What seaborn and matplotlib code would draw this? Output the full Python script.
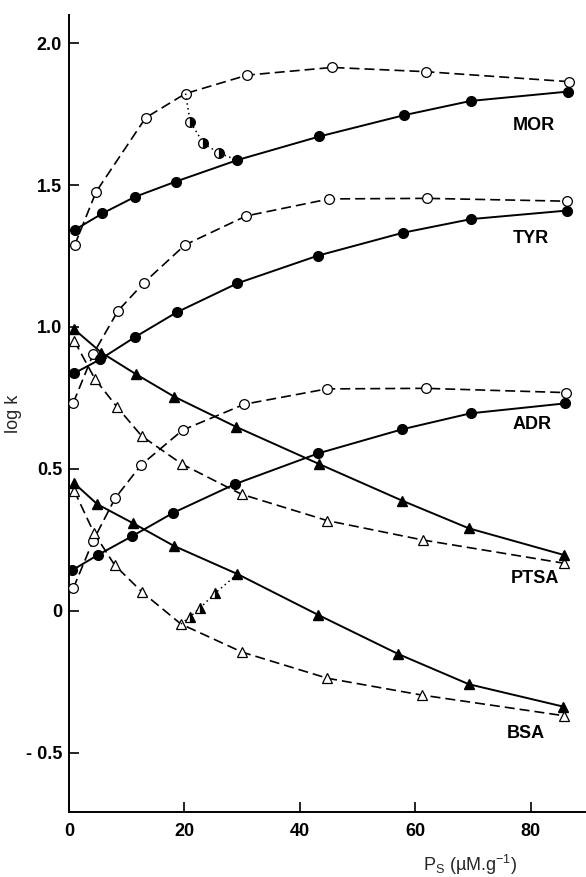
import matplotlib
matplotlib.use("Agg")
import matplotlib.pyplot as plt
import seaborn as sns
import pandas as pd

# ---------------- data ----------------
mor_filled_x = [1.0, 5.8, 11.4, 18.5, 29.2, 43.4, 58.1, 69.6, 86.5]
mor_filled_y = [1.342, 1.400, 1.458, 1.512, 1.588, 1.671, 1.746, 1.796, 1.829]
mor_open_x = [1.0, 4.7, 13.3, 20.2, 30.9, 45.6, 61.9, 86.6]
mor_open_y = [1.289, 1.476, 1.737, 1.822, 1.887, 1.914, 1.899, 1.864]
mor_half_x = [20.2, 21.0, 23.3, 26.0, 29.2]
mor_half_y = [1.822, 1.723, 1.647, 1.612, 1.588]

tyr_filled_x = [0.9, 5.4, 11.4, 18.7, 29.2, 43.1, 57.9, 69.7, 86.3]
tyr_filled_y = [0.837, 0.886, 0.964, 1.052, 1.154, 1.251, 1.332, 1.380, 1.410]
tyr_open_x = [0.75, 4.2, 8.5, 13.0, 20.1, 30.7, 45.1, 62.0, 86.3]
tyr_open_y = [0.733, 0.905, 1.057, 1.156, 1.289, 1.391, 1.451, 1.453, 1.443]

adr_filled_x = [0.6, 5.0, 11.0, 18.1, 28.8, 43.2, 57.8, 69.6, 86.0]
adr_filled_y = [0.144, 0.197, 0.264, 0.346, 0.447, 0.555, 0.640, 0.696, 0.731]
adr_open_x = [0.75, 4.2, 8.0, 12.5, 19.7, 30.4, 44.7, 61.8, 86.1]
adr_open_y = [0.080, 0.248, 0.397, 0.514, 0.637, 0.728, 0.782, 0.784, 0.769]

ptsa_filled_x = [0.9, 5.6, 11.6, 18.2, 28.9, 43.4, 57.8, 69.3, 85.8]
ptsa_filled_y = [0.992, 0.910, 0.834, 0.755, 0.649, 0.517, 0.388, 0.291, 0.197]
ptsa_open_x = [0.9, 4.5, 8.3, 12.6, 19.6, 29.9, 44.8, 61.3, 85.8]
ptsa_open_y = [0.952, 0.817, 0.719, 0.616, 0.517, 0.411, 0.318, 0.250, 0.168]

bsa_filled_x = [0.9, 4.9, 11.1, 18.2, 29.2, 43.2, 57.1, 69.3, 85.7]
bsa_filled_y = [0.450, 0.376, 0.309, 0.229, 0.130, -0.014, -0.152, -0.258, -0.337]
bsa_open_x = [0.9, 4.3, 7.9, 12.7, 19.4, 30.0, 44.8, 61.1, 85.8]
bsa_open_y = [0.424, 0.276, 0.162, 0.066, -0.046, -0.145, -0.237, -0.296, -0.369]
bsa_half_x = [19.4, 21.0, 22.7, 25.3, 29.2]
bsa_half_y = [-0.046, -0.020, 0.010, 0.062, 0.130]

labels = ["MOR", "TYR", "ADR", "PTSA", "BSA"]
label_x = [80.6, 80.1, 80.2, 80.7, 79.1]
label_y = [1.708, 1.310, 0.658, 0.113, -0.430]

xticks = [0, 20, 40, 60, 80]
xtick_labels = ["0", "20", "40", "60", "80"]
yticks = [-0.5, 0, 0.5, 1.0, 1.5, 2.0]
ytick_labels = ["- 0.5", "0", "0.5", "1.0", "1.5", "2.0"]

# ---------------- figure ----------------
sns.set_style("ticks")
plt.rcParams["font.family"] = ["Liberation Sans", "DejaVu Sans"]
plt.rcParams["mathtext.fontset"] = "custom"
plt.rcParams["mathtext.rm"] = "Liberation Sans"

fig = plt.figure(figsize=(5.86, 8.77), dpi=100)
ax = fig.add_axes([0.1177, 0.0741, 0.8813, 0.9089])

dash = (0, (6, 3))
dot = (0, (1, 2.2))
solid_kw = dict(color="black", linewidth=1.4, linestyle="-", markersize=7,
                markeredgecolor="black", markerfacecolor="black", markeredgewidth=1.0)
open_kw = dict(color="black", linewidth=1.2, linestyle=dash, markersize=7,
               markeredgecolor="black", markerfacecolor="white", markeredgewidth=0.9)


def draw(x, y, marker, kw, zorder=3):
    df = pd.DataFrame({"x": x, "y": y})
    sns.lineplot(data=df, x="x", y="y", ax=ax, marker=marker, sort=False,
                 estimator=None, zorder=zorder, **kw)


# dashed series (open markers)
draw(mor_open_x, mor_open_y, "o", open_kw)
draw(tyr_open_x, tyr_open_y, "o", open_kw)
draw(adr_open_x, adr_open_y, "o", open_kw)
draw(ptsa_open_x, ptsa_open_y, "^", dict(open_kw, markersize=7.5))
draw(bsa_open_x, bsa_open_y, "^", dict(open_kw, markersize=7.5))

# solid series (filled markers)
draw(mor_filled_x, mor_filled_y, "o", solid_kw, zorder=4)
draw(tyr_filled_x, tyr_filled_y, "o", solid_kw, zorder=4)
draw(adr_filled_x, adr_filled_y, "o", solid_kw, zorder=4)
draw(ptsa_filled_x, ptsa_filled_y, "^", dict(solid_kw, markersize=7.5), zorder=4)
draw(bsa_filled_x, bsa_filled_y, "^", dict(solid_kw, markersize=7.5), zorder=4)

# dotted transitions with half-filled markers
half_kw = dict(color="black", linewidth=1.1, linestyle=dot, markersize=7,
               markeredgecolor="black", markerfacecolor="black",
               markerfacecoloralt="white", fillstyle="right",
               markeredgewidth=0.9, markevery=[1, 2, 3])
draw(mor_half_x, mor_half_y, "o", half_kw, zorder=5)
draw(bsa_half_x, bsa_half_y, "^", dict(half_kw, markersize=7.5), zorder=5)

# series labels
for t, lx, ly in zip(labels, label_x, label_y):
    ax.text(lx, ly, t, ha="center", va="center", fontsize=13,
            fontweight="bold", color="black")

ax.set_xlim(0, 89.5)
ax.set_ylim(-0.708, 2.099)
ax.set_xticks(xticks)
ax.set_xticklabels(xtick_labels, fontsize=13, fontweight="bold")
ax.set_yticks(yticks)
ax.set_yticklabels(ytick_labels, fontsize=13, fontweight="bold")
ax.tick_params(axis="both", direction="in", length=7, width=1.2, colors="black")
ax.tick_params(axis="x", pad=8)
ax.tick_params(axis="y", pad=5)

for side in ["top", "right"]:
    ax.spines[side].set_visible(False)
for side in ["left", "bottom"]:
    ax.spines[side].set_linewidth(1.4)
    ax.spines[side].set_color("black")

ax_w = 0.8813 * 586
ax_h = 0.9089 * 877
ax.set_xlabel(r"P$_\mathregular{S}$ (µM.g$^{\mathregular{-1}}$)", fontsize=13)
ax.xaxis.set_label_coords((470 - 69) / ax_w, -(853 - 812) / ax_h)
ax.set_ylabel("log k", fontsize=13)
ax.yaxis.set_label_coords(-(69 - 22) / ax_w, (812 - 414) / ax_h)

fig.savefig("out.png", dpi=100)
